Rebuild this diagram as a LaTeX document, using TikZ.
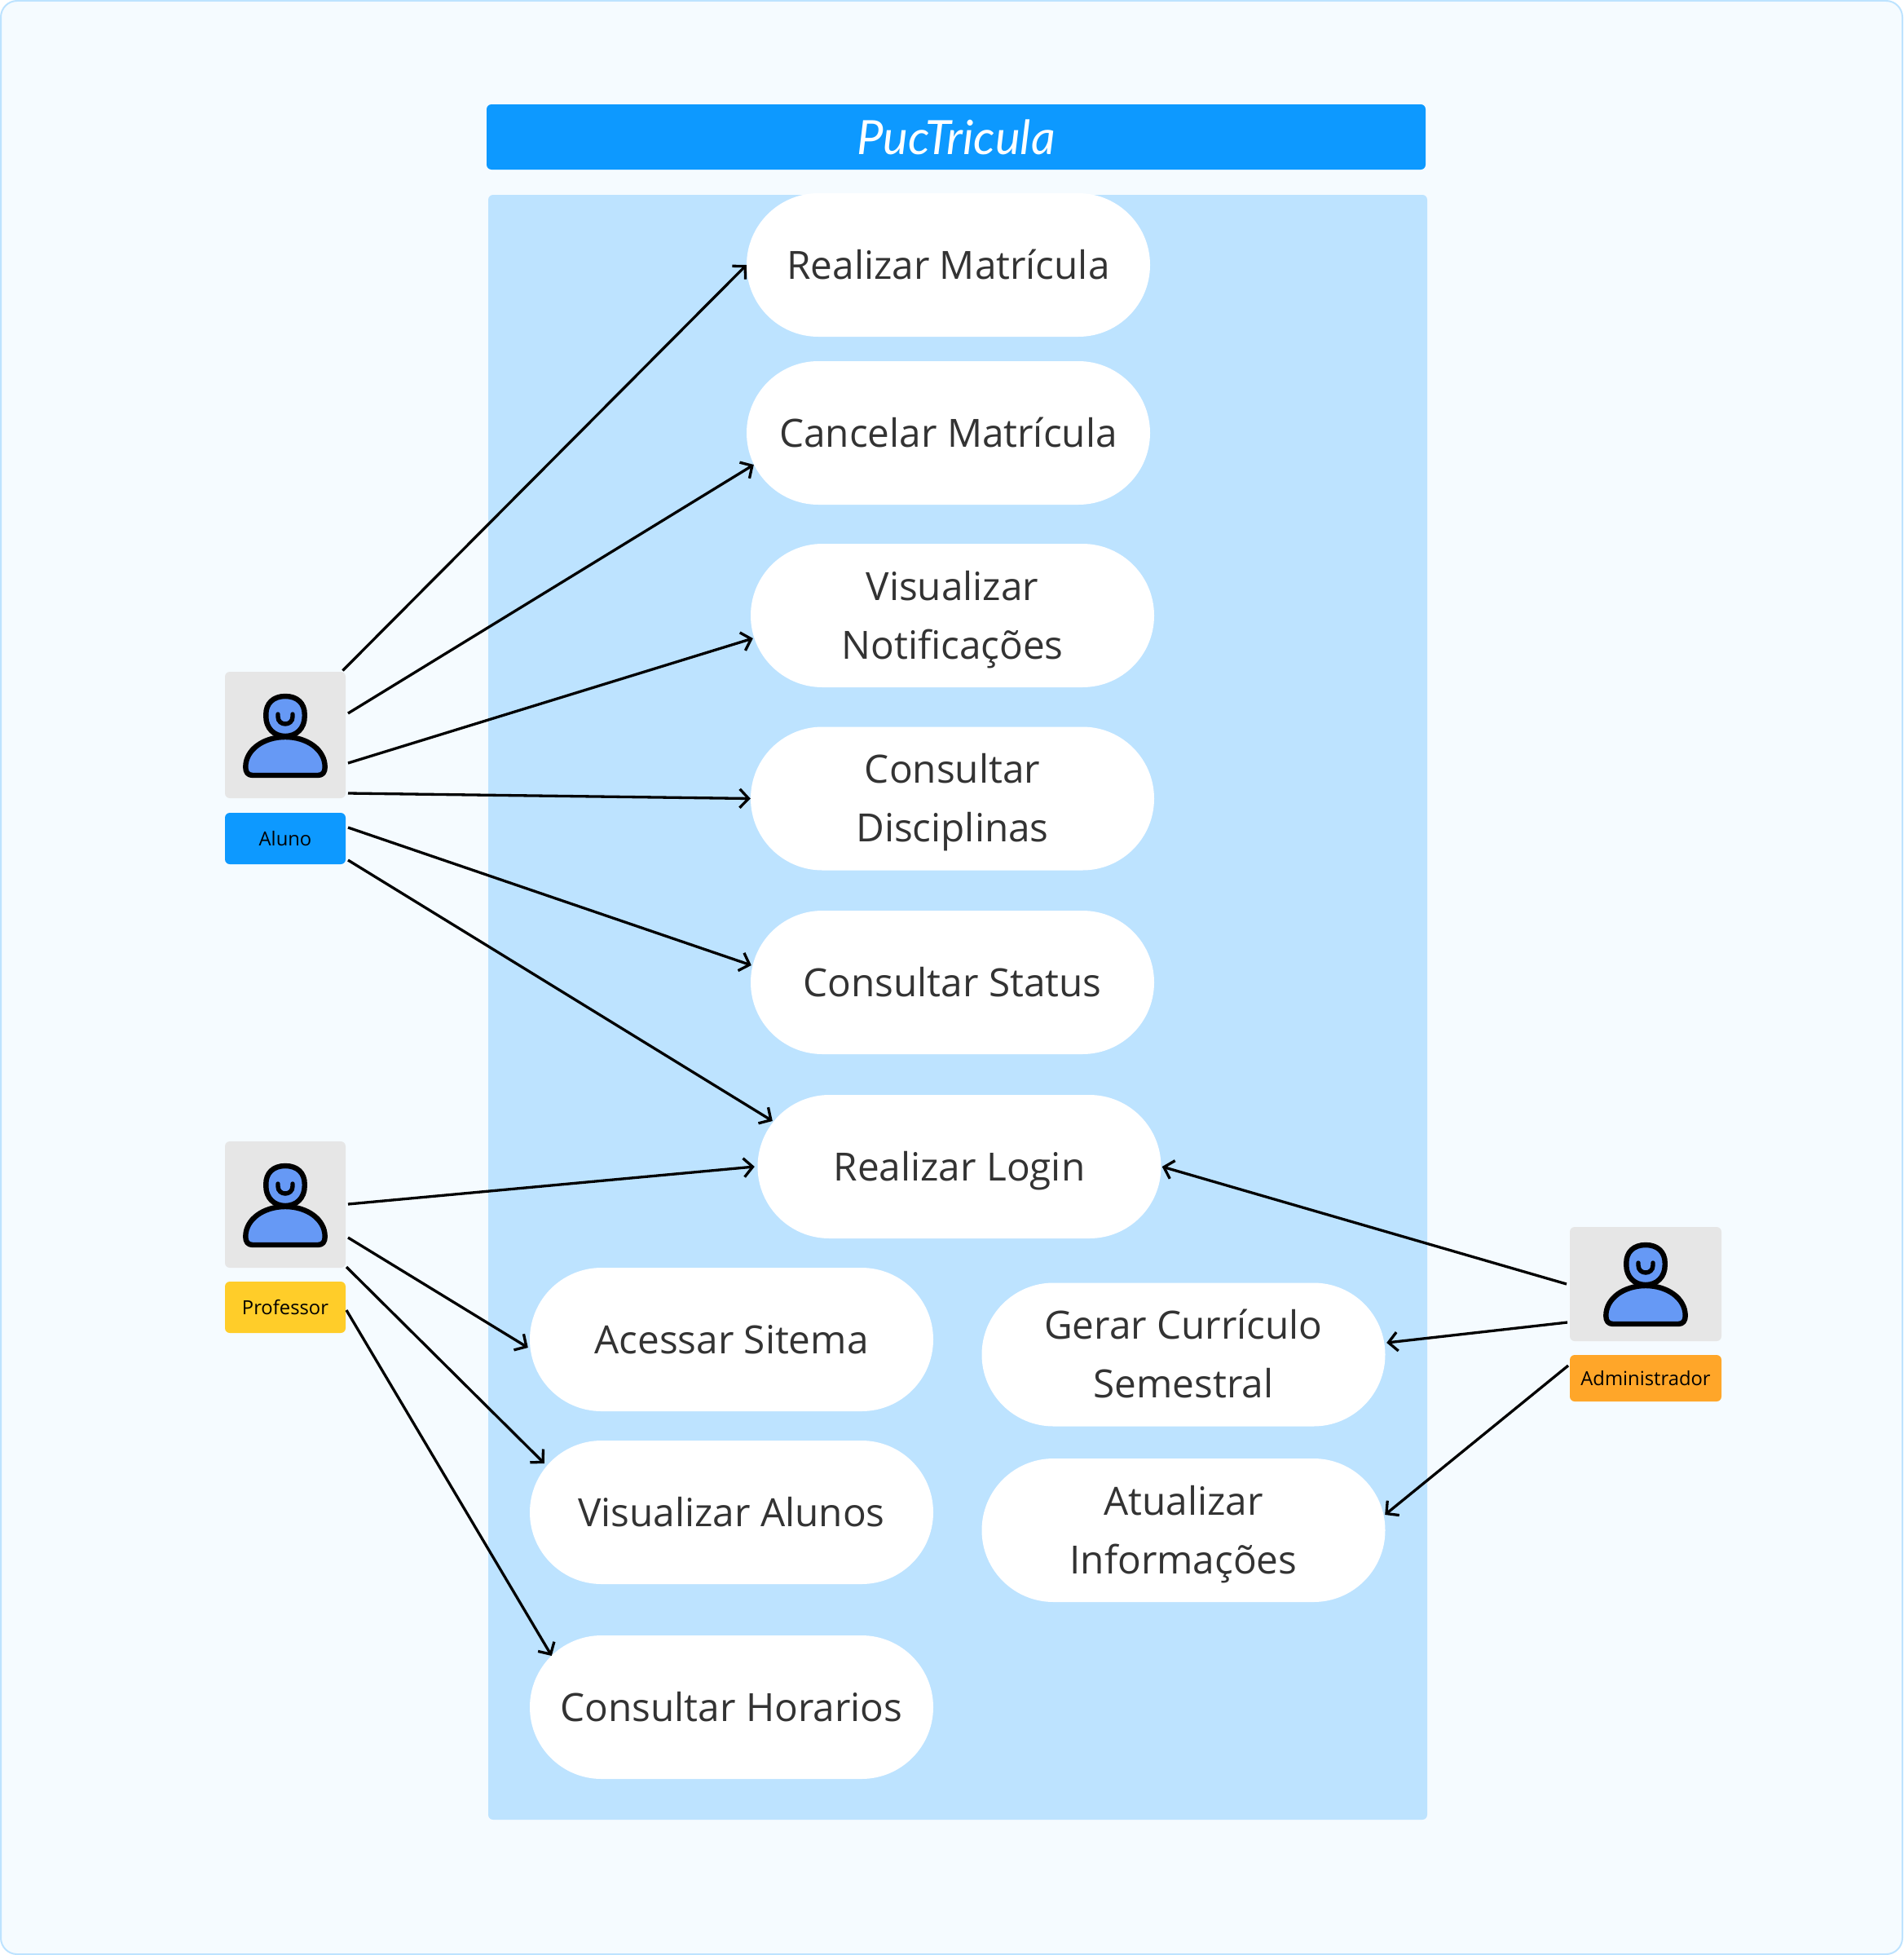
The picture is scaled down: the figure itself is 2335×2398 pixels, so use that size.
\documentclass[tikz,border=0pt]{standalone}
\usepackage{fontspec}
\setmainfont{Open Sans}
\newfontfamily\titlefont{Lato}
\usetikzlibrary{arrows.meta,calc}
\definecolor{pagebg}{HTML}{F5FBFF}
\definecolor{pageline}{HTML}{BDE3FF}
\definecolor{barblue}{HTML}{0D99FF}
\definecolor{panelblue}{HTML}{BDE3FF}
\definecolor{boxgrey}{HTML}{E6E6E6}
\definecolor{iconblue}{HTML}{6699F5}
\definecolor{labyellow}{HTML}{FFCD29}
\definecolor{laborange}{HTML}{FFA629}
\definecolor{pilltext}{HTML}{333333}
\newcommand{\ps}{\rule[-14pt]{0pt}{62pt}}
\newcommand{\ls}{\rule[-7pt]{0pt}{31pt}}
\tikzset{
  pill/.style={fill=white,rounded corners=88pt,minimum width=495pt,minimum height=176pt,inner sep=0pt,align=center,text=pilltext,font=\fontsize{47.7}{72}\selectfont},
  actorbox/.style={fill=boxgrey,rounded corners=6pt,inner sep=0pt},
  actorlabel/.style={rounded corners=6pt,inner sep=0pt,text=black,font=\fontsize{23.8}{30}\selectfont},
  conn/.style={draw=black,line width=3.3pt,-{Straight Barb[length=11pt,width=23pt,line width=3.3pt]}},
  person/.pic={
    \draw[fill=iconblue,line width=6.4pt,line join=round]
      (0,3) .. controls (15,3) and (23.7,12) .. (23.7,25) -- (23.7,28) .. controls (23.7,42) and (14,52) .. (0,52) .. controls (-14,52) and (-23.7,42) .. (-23.7,28) -- (-23.7,25) .. controls (-23.7,12) and (-15,3) .. (0,3) -- cycle;
    \draw[line width=5.4pt,line cap=round] (-9,25) -- (-9,28) .. controls (-9,40) and (9,40) .. (9,28) -- (9,25);
    \draw[fill=iconblue,line width=6.4pt,line join=round]
      (-40,100) -- (40,100) .. controls (46,100) and (48.7,96) .. (48.7,90) .. controls (48.7,68) and (26,53) .. (0,53) .. controls (-26,53) and (-48.7,68) .. (-48.7,90) .. controls (-48.7,96) and (-46,100) .. (-40,100) -- cycle;
  }
}
\begin{document}
\begin{tikzpicture}[x=1pt,y=-1pt]
\useasboundingbox (0,0) rectangle (2335,2398);
\draw[fill=pagebg,draw=pageline,line width=2pt,rounded corners=20pt] (1,1) rectangle (2334,2397);
\node[fill=barblue,rounded corners=6pt,minimum width=1152pt,minimum height=80pt,inner sep=0pt,text=white,font=\fontsize{58}{60}\selectfont\titlefont\itshape] (title) at (1173,168) {PucTricula};
\node[fill=panelblue,rounded corners=6pt,minimum width=1152pt,minimum height=1993pt,inner sep=0pt] (panel) at (1175,1235.5) {};
\node[pill] (p1) at (1163.5,325) {\ps Realizar Matrícula};
\node[pill] (p2) at (1163.5,531) {\ps Cancelar Matrícula};
\node[pill] (p3) at (1168.5,755) {\ps Visualizar\\\ps Notificações};
\node[pill] (p4) at (1168.5,979.5) {\ps Consultar\\\ps Disciplinas};
\node[pill] (p5) at (1168.5,1205) {\ps Consultar Status};
\node[pill] (p6) at (1177,1431) {\ps Realizar Login};
\node[pill] (p7) at (897.5,1643) {\ps Acessar Sitema};
\node[pill] (p8) at (1452,1661.5) {\ps Gerar Currículo\\\ps Semestral};
\node[pill] (p9) at (897.5,1855) {\ps Visualizar Alunos};
\node[pill] (p10) at (1452,1877) {\ps Atualizar\\\ps Informações};
\node[pill] (p11) at (897.5,2094) {\ps Consultar Horarios};
\node[actorbox,minimum width=148pt,minimum height=155pt] (aluno) at (350,901.5) {};
\node[actorbox,minimum width=148pt,minimum height=155pt] (prof) at (350,1477.5) {};
\node[actorbox,minimum width=186pt,minimum height=140pt] (admin) at (2019,1575) {};
\pic at (350,851) {person};
\pic at (350,1427) {person};
\pic at (2019,1524) {person};
\node[actorlabel,fill=barblue,minimum width=148pt,minimum height=63pt] (lblaluno) at (350,1028.5) {\ls Aluno};
\node[actorlabel,fill=labyellow,minimum width=148pt,minimum height=63pt] (lblprof) at (350,1603.5) {\ls Professor};
\node[actorlabel,fill=laborange,minimum width=186pt,minimum height=57pt] (lbladmin) at (2019,1690.5) {\ls Administrador};
\coordinate (a1) at (420.5,822.5);
\coordinate (a2) at (427,875);
\coordinate (a3) at (427,936);
\coordinate (a4) at (427,973);
\coordinate (a5) at (427,1015);
\coordinate (a6) at (427,1055);
\coordinate (b1) at (427,1477);
\coordinate (b2) at (427,1518);
\coordinate (b3) at (425,1554);
\coordinate (b4) at (425,1607);
\coordinate (c1) at (1922,1575);
\coordinate (c2) at (1923,1622);
\coordinate (c3) at (1924,1675);
\draw[conn] (a1) -- (p1.west);
\draw[conn] (a2) -- ($(p2.west)+(9,39)$);
\draw[conn] (a3) -- ($(p3.west)+(3,28)$);
\draw[conn] (a4) -- (p4.west);
\draw[conn] (a5) -- ($(p5.west)+(1,-21)$);
\draw[conn] (a6) -- ($(p6.west)+(18.5,-56)$);
\draw[conn] (b1) -- ($(p6.west)+(-3.5,0)$);
\draw[conn] (b2) -- ($(p7.west)+(-2,10)$);
\draw[conn] (b3) -- ($(p9.west)+(18,-60)$);
\draw[conn] (b4) -- ($(p11.west)+(27,-63)$);
\draw[conn] (c1) -- ($(p6.east)+(1,0)$);
\draw[conn] (c2) -- ($(p8.east)+(1.5,-14.5)$);
\draw[conn] (c3) -- ($(p10.east)+(-0.5,-19)$);
\end{tikzpicture}
\end{document}
